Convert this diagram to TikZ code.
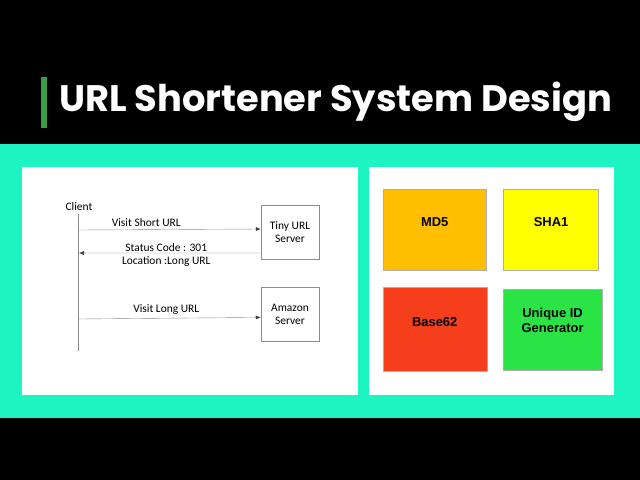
\documentclass[tikz,border=0pt]{standalone}
\usepackage{fontspec}
\usepackage{tikz}
\usetikzlibrary{arrows.meta, positioning}
\setmainfont{Carlito}
\newfontfamily\titlefont{Poppins}
\newfontfamily\hashfont{Liberation Sans}
\definecolor{ytteal}{HTML}{1CF4C2}
\definecolor{ytbar}{HTML}{3C9B46}
\definecolor{hashorange}{HTML}{FFBE00}
\definecolor{hashyellow}{HTML}{FFFF00}
\definecolor{hashred}{HTML}{F43E1C}
\definecolor{hashgreen}{HTML}{2AE344}
\definecolor{seqgray}{HTML}{8C8C8C}

\begin{document}
\begin{tikzpicture}[x=1bp, y=-1bp, font=\fontsize{11.5}{13.5}\selectfont, node distance=17bp]
\useasboundingbox (0,0) rectangle (640,480);
\fill[black] (0,0) rectangle (640,480);
\fill[ytteal] (0,144) rectangle (640,418);
% title
\node[fill=ytbar, minimum width=6bp, minimum height=51bp, inner sep=0] (bar) at (44,102.5) {};
\node[anchor=west, text=white, inner sep=0,
      font=\titlefont\bfseries\fontsize{37}{40}\selectfont] (title) at (59,102) {URL Shortener System Design};
% left panel: redirect flow
\node[fill=white, minimum width=336bp, minimum height=228bp, inner sep=0, anchor=north west] (flow) at (22,167) {};
\node (client) at (79,207) {Client};
\coordinate (lifetop) at (78,214);
\coordinate (lifebot) at (78,351);
\draw[seqgray] (lifetop) -- (lifebot);
\node[draw=seqgray, minimum width=58bp, minimum height=54bp, align=center, inner sep=1bp] (tiny) at (290,232) {Tiny URL\\Server};
\node[draw=seqgray, minimum width=58bp, minimum height=54bp, align=center, inner sep=1bp, below=28bp of tiny] (amazon) {Amazon\\Server};
\coordinate (req) at (79,230);
\coordinate (resp) at (79,253);
\coordinate (visit) at (79,319);
\draw[seqgray, -{Latex[length=5bp, width=4bp, color=black!75]}] (req) -- ([yshift=3bp]tiny.west)
      node[pos=0.37, above, text=black] {Visit Short URL};
\draw[seqgray, -{Latex[length=5bp, width=4bp, color=black!75]}] ([yshift=-21bp]tiny.west) -- (resp)
      node[pos=0.52, above, text=black, inner sep=1.5bp] {Status Code : 301}
      node[pos=0.52, below, text=black, inner sep=3.5bp] {Location :Long URL};
\draw[seqgray, -{Latex[length=5bp, width=4bp, color=black!75]}] (visit) -- ([yshift=-3bp]amazon.west)
      node[pos=0.48, above, text=black] {Visit Long URL};
% right panel: hashing options
\node[fill=white, minimum width=245bp, minimum height=228bp, inner sep=0, anchor=north west] (hashing) at (369,167) {};
\node[draw=seqgray!70, fill=hashorange, minimum width=103bp, minimum height=81bp, anchor=north west,
      font=\hashfont\bfseries\fontsize{13}{15}\selectfont, text height=9bp, text depth=15bp] (md5) at (383,189) {MD5};
\node[draw=seqgray!70, fill=hashyellow, minimum width=95bp, minimum height=81bp, right=17bp of md5,
      font=\hashfont\bfseries\fontsize{13}{15}\selectfont, text height=9bp, text depth=15bp] (sha1) {SHA1};
\node[draw=seqgray!70, fill=hashred, minimum width=104bp, minimum height=84bp, below=17bp of md5,
      font=\hashfont\bfseries\fontsize{13}{15}\selectfont, text height=9bp, text depth=15bp] (base62) {Base62};
\node[draw=seqgray!70, fill=hashgreen, minimum width=99bp, minimum height=81bp, right=16bp of base62,
      font=\hashfont\bfseries\fontsize{13}{15}\selectfont, align=center] (uid) {Unique ID\\Generator\\[4bp]};
\end{tikzpicture}
\end{document}
